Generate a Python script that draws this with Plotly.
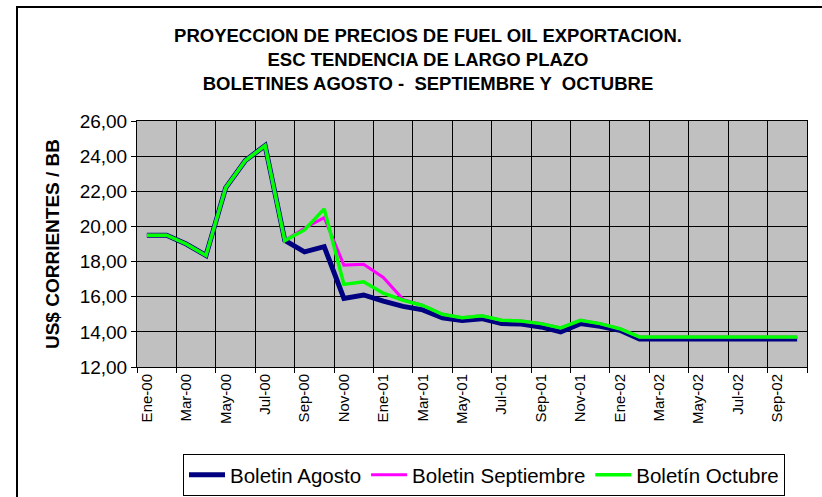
import plotly.graph_objects as go

months = ["Ene", "Feb", "Mar", "Abr", "May", "Jun", "Jul", "Ago", "Sep", "Oct", "Nov", "Dic"]
years = ["00", "01", "02"]
periods = [f"{m}-{y}" for y in years for m in months][:34]

agosto = [19.5, 19.5, 19.0, 18.35, 22.2, 23.75, 24.6, 19.2, 18.55, 18.85,
          15.9, 16.1, 15.75, 15.45, 15.25, 14.8, 14.65, 14.75, 14.47, 14.45,
          14.28, 14.0, 14.47, 14.32, 14.09, 13.6, 13.6, 13.6, 13.6, 13.6,
          13.6, 13.6, 13.6, 13.6]
octubre = [19.5, 19.5, 19.0, 18.35, 22.2, 23.75, 24.6, 19.2, 19.8, 21.0,
           16.7, 16.85, 16.2, 15.8, 15.5, 15.0, 14.8, 14.92, 14.66, 14.62,
           14.47, 14.22, 14.66, 14.47, 14.18, 13.71, 13.71, 13.71, 13.71, 13.71,
           13.71, 13.71, 13.71, 13.71]
septiembre = [19.5, 19.5, 19.0, 18.35, 22.2, 23.75, 24.6, 19.2, 19.9, 20.5,
              17.8, 17.85, 17.1, 15.85, 15.5, 15.0, 14.8, 14.92, 14.66, 14.62,
              14.47, 14.22, 14.66, 14.47, 14.18, 13.71, 13.71, 13.71, 13.71, 13.71,
              13.71, 13.71, 13.71, 13.71]

x = list(range(len(periods)))
tick_idx = x[::2]
tick_text = [periods[i] for i in tick_idx]
boundaries = [i - 0.5 for i in range(0, len(periods) + 1, 2)]

FONT = "Liberation Sans, Arial, sans-serif"

fig = go.Figure()
fig.add_trace(go.Scatter(x=x, y=agosto, mode="lines", name="Boletin Agosto",
                         line=dict(color="#000080", width=5)))
fig.add_trace(go.Scatter(x=x, y=septiembre, mode="lines", name="Boletin Septiembre",
                         line=dict(color="#FF00FF", width=3)))
fig.add_trace(go.Scatter(x=x, y=octubre, mode="lines", name="Boletín Octubre",
                         line=dict(color="#00FF00", width=3.5)))

W, H = 822, 497
L, R, T, B = 137, 15, 121, 130
pw, ph = W - L - R, H - T - B

fig.update_layout(
    width=W, height=H,
    margin=dict(l=L, r=R, t=T, b=B, autoexpand=False),
    paper_bgcolor="white", plot_bgcolor="#C0C0C0",
    separators=",.",
    font=dict(family=FONT, color="black"),
    title=dict(
        text="<b>PROYECCION DE PRECIOS DE FUEL OIL EXPORTACION.<br>ESC TENDENCIA DE LARGO PLAZO<br>BOLETINES AGOSTO -  SEPTIEMBRE Y  OCTUBRE</b>",
        x=428 / W, xanchor="center", xref="container",
        y=1 - 42 / H, yanchor="top", yref="container",
        font=dict(size=18.5, family=FONT),
    ),
    xaxis=dict(
        range=[-0.5, len(periods) - 0.5],
        tickmode="array", tickvals=tick_idx, ticktext=tick_text,
        tickangle=-90, ticks="", showgrid=False,
        tickfont=dict(size=15, family=FONT),
        showline=True, linecolor="black", linewidth=1, mirror=True,
        zeroline=False,
        minor=dict(tickmode="array", tickvals=boundaries, showgrid=True,
                   gridcolor="black", gridwidth=1, ticks="outside",
                   ticklen=5, tickcolor="black"),
    ),
    yaxis=dict(
        range=[12, 26], dtick=2, tick0=12, tickformat=".2f",
        showgrid=True, gridcolor="black", gridwidth=1,
        ticks="outside", ticklen=5, tickcolor="black",
        tickfont=dict(size=19, family=FONT),
        showline=True, linecolor="black", linewidth=1, mirror=True,
        zeroline=False,
        title=dict(text="<b>US$ CORRIENTES / BB</b>", font=dict(size=19, family=FONT),
                   standoff=15),
    ),
    legend=dict(
        orientation="h", x=(183 - L) / pw, xanchor="left",
        y=(H - B - 454) / ph, yanchor="top",
        bordercolor="black", borderwidth=1, bgcolor="white",
        font=dict(size=20.5, family=FONT), itemwidth=36,
        tracegroupgap=0,
    ),
    showlegend=True,
)

fig.add_shape(type="rect", xref="paper", yref="paper",
              x0=(17 - L) / pw, x1=(W + 2 - L) / pw,
              y0=(H - B - (H + 2)) / ph, y1=(H - B - 7) / ph,
              line=dict(color="black", width=2), fillcolor="rgba(0,0,0,0)",
              layer="below")

fig.write_html("out.html", config={"displayModeBar": False},
               post_script="document.body.style.margin='0px';")
